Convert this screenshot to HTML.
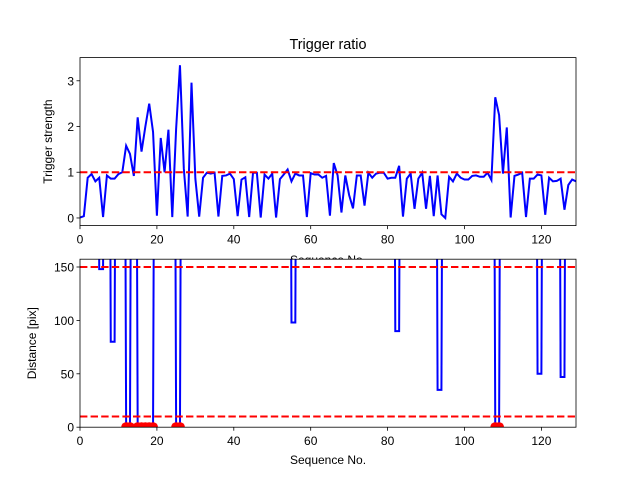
<!DOCTYPE html>
<html><head><meta charset="utf-8"><style>
body{margin:0;background:#fff}
text{font-family:"Liberation Sans","DejaVu Sans",sans-serif;fill:#000}
</style></head><body>
<svg id="chart" width="640" height="480" xmlns="http://www.w3.org/2000/svg">
<defs>
<clipPath id="c1"><rect x="80" y="57.6" width="496" height="168"/></clipPath>
<clipPath id="c2"><rect x="80" y="259.2" width="496" height="168"/></clipPath>
</defs>
<rect width="640" height="480" fill="#fff"/>
<g id="top"></g>
<g id="bot"></g>
</svg>
<script>
const seqIndex = Array.from({length:130},(_, i)=>i);
const triggerStrength = [0.01,0.04,0.88,0.96,0.8,0.88,0.02,0.93,0.86,0.86,0.96,1.0,1.58,1.4,0.92,2.2,1.45,2.0,2.5,1.88,0.05,1.75,1.0,1.93,0.02,1.95,3.34,1.08,0.03,2.96,0.86,0.03,0.88,0.99,0.97,0.99,0.03,0.92,0.93,0.97,0.85,0.04,0.84,0.89,0.02,0.99,0.99,0.01,0.95,0.86,0.97,0.01,0.85,0.95,1.06,0.8,0.97,0.93,0.93,0.02,0.98,0.95,0.95,0.88,0.92,0.05,1.2,0.93,0.12,0.93,0.5,0.21,0.93,0.93,0.27,0.99,0.88,0.97,0.99,0.99,0.86,0.88,0.88,1.14,0.03,0.86,0.97,0.2,0.86,0.99,0.2,0.92,0.04,0.93,0.08,0.0,0.9,0.8,0.97,0.88,0.84,0.84,0.92,0.93,0.9,0.9,0.99,0.83,2.64,2.25,0.97,1.98,0.01,0.92,0.95,0.99,0.02,0.86,0.86,0.95,0.93,0.07,0.88,0.8,0.81,0.86,0.18,0.72,0.84,0.8];
const dipIndex = [5,6,8,9,12,13,15,16,17,18,19,25,26,55,56,82,83,93,94,108,109,119,120,125,126];
const dipDistance = [148,148,80,80,0,0,0,0,0,0,0,0,0,98,98,90,90,35,35,0,0,50,50,47,47];
const farDistance = 1000;
const triggerThreshold = 1;
const distanceThresholds = [150,10];
const xTicks = [0,20,40,60,80,100,120];
const yTicksTop = [0,1,2,3];
const yTicksBot = [0,50,100,150];

const NS="http://www.w3.org/2000/svg";
function mk(tag,attrs,parent,txt){const e=document.createElementNS(NS,tag);for(const k in attrs)e.setAttribute(k,attrs[k]);if(txt!==undefined)e.textContent=txt;parent.appendChild(e);return e;}
const L=80,R=576;
const xs=v=>L+(v-0)/(129-0)*(R-L);
const ysTop=v=>225.6-(v+0.167)/(3.507+0.167)*168;
const ysBot=v=>427.2-v/157.3*168;
const distance=seqIndex.map(i=>{const k=dipIndex.indexOf(i);return k>=0?dipDistance[k]:farDistance;});

function axes(g,top,ys,yt,ylabel,xlabelY){
  for(const t of xTicks){const x=xs(t);mk('line',{x1:x,x2:x,y1:top+168,y2:top+171.5,stroke:'#000','stroke-width':0.8},g);
    const tl=mk('text',{x:x,y:top+186,'font-size':12,'text-anchor':'middle'},g,t);
    
    }
  for(const t of yt){const y=ys(t);mk('line',{x1:L-3.5,x2:L,y1:y,y2:y,stroke:'#000','stroke-width':0.8},g);
    const tl=mk('text',{x:L-6,y:y+4.5,'font-size':12,'text-anchor':'end'},g,t);
    
    }
  const yl=mk('text',{x:0,y:0,'font-size':12,'text-anchor':'middle',transform:`translate(${top<100?52:36},${top+84}) rotate(-90)`},g,ylabel);
  
  
  const xl=mk('text',{x:328,y:xlabelY,'font-size':12,'text-anchor':'middle'},g,'Sequence No.');
  
  
}
// top
const gt=document.getElementById('top');
const ttl=mk('text',{x:328,y:49,'font-size':14.4,'text-anchor':'middle'},gt,'Trigger ratio');


axes(gt,57.6,ysTop,yTicksTop,'Trigger strength',264);
const lt=mk('polyline',{points:seqIndex.map((i,k)=>xs(i)+','+ysTop(triggerStrength[k])).join(' '),fill:'none',stroke:'#0000ff','stroke-width':2,'clip-path':'url(#c1)'},gt);


const th=mk('line',{x1:L,x2:R,y1:ysTop(triggerThreshold),y2:ysTop(triggerThreshold),stroke:'#ff0000','stroke-width':2,'stroke-dasharray':'7.4,3.2'},gt);


mk('rect',{x:L,y:57.6,width:R-L,height:168,fill:'none',stroke:'#000','stroke-width':0.8},gt);
// bottom
const gb=document.getElementById('bot');
mk('rect',{x:L,y:259.2,width:R-L,height:168,fill:'#fff'},gb);
axes(gb,259.2,ysBot,yTicksBot,'Distance [pix]',464);
const lb=mk('polyline',{points:seqIndex.map((i,k)=>xs(i)+','+ysBot(distance[k])).join(' '),fill:'none',stroke:'#0000ff','stroke-width':2,'clip-path':'url(#c2)'},gb);


for(const d of distanceThresholds){const l=mk('line',{x1:L,x2:R,y1:ysBot(d),y2:ysBot(d),stroke:'#ff0000','stroke-width':2,'stroke-dasharray':'7.4,3.2'},gb);
  
  }
seqIndex.forEach((i,k)=>{if(distance[k]===0){const c=mk('circle',{cx:xs(i),cy:ysBot(0),r:5,fill:'#ff0000','clip-path':'url(#c2)'},gb);
  
  }});
mk('rect',{x:L,y:259.2,width:R-L,height:168,fill:'none',stroke:'#000','stroke-width':0.8},gb);
</script>
</body></html>
